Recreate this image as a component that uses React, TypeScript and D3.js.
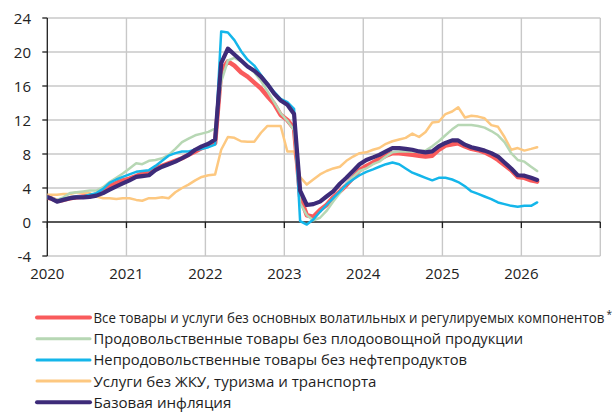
import React, { useLayoutEffect, useRef, useState } from 'react';
import * as d3 from 'd3';

// Monthly observations, Dec 2019 .. Mar 2026 (76 points)
const months: Date[] = d3.range(76).map((i) => new Date(2019, 11 + i, 15));

const yTicks = [-4, 0, 4, 8, 12, 16, 20, 24];
const yearTicks = [2020, 2021, 2022, 2023, 2024, 2025, 2026, 2027];
const yearLabels = ['2020', '2021', '2022', '2023', '2024', '2025', '2026'];

const legendLabels = [
  'Все товары и услуги без основных волатильных и регулируемых компонентов',
  'Продовольственные товары без плодоовощной продукции',
  'Непродовольственные товары без нефтепродуктов',
  'Услуги без ЖКУ, туризма и транспорта',
  'Базовая инфляция',
];
const legendFootnote = ['*', '', '', '', ''];

const allGoods = [
  3.0,
  2.8, 2.5, 2.6, 2.8, 2.9, 3.0, 3.05, 3.2, 3.7, 4.2, 4.6, 4.9,
  5.1, 5.4, 5.7, 5.8, 6.3, 6.6, 6.9, 7.2, 7.5, 7.9, 8.3, 8.7,
  9.0, 9.3, 17.8, 18.9, 18.4, 17.6, 17.1, 16.4, 15.7, 14.8, 13.9, 12.6,
  12.0, 11.0, 3.0, 0.8, 0.6, 1.4, 2.0, 2.9, 3.6, 4.35, 5.2, 6.1,
  6.6, 7.0, 7.4, 7.8, 8.1, 8.1, 8.0, 7.9, 7.8, 7.7, 7.8, 8.5,
  9.0, 9.15, 9.25, 8.9, 8.6, 8.45, 8.2, 7.8, 7.3, 6.7, 6.1, 5.3,
  5.2, 4.9, 4.75,
];

const food = [
  3.1,
  2.9, 2.6, 2.9, 3.4, 3.5, 3.6, 3.7, 3.7, 4.1, 4.7, 5.2, 5.7,
  6.3, 6.9, 6.8, 7.2, 7.3, 7.5, 7.9, 8.6, 9.4, 9.8, 10.2, 10.4,
  10.6, 11.0, 16.5, 19.0, 19.3, 18.9, 18.3, 17.6, 16.6, 15.4, 14.1, 12.8,
  11.9, 10.8, 2.2, 0.8, 0.2, 0.5, 1.3, 2.4, 3.4, 4.5, 5.3, 6.0,
  6.3, 6.8, 7.1, 7.7, 8.2, 8.3, 8.3, 8.3, 8.3, 8.4, 8.9, 9.5,
  10.2, 10.9, 11.4, 11.4, 11.4, 11.3, 11.1, 10.7, 10.2, 9.4, 8.1, 7.3,
  7.1, 6.5, 6.0,
];

const nonFood = [
  3.0,
  2.8, 2.5, 2.7, 2.9, 3.0, 3.0, 3.2, 3.4, 3.9, 4.6, 5.0, 5.3,
  5.6, 5.9, 6.0, 6.1, 6.6, 7.2, 7.8, 8.1, 8.3, 8.3, 8.5, 8.6,
  8.8, 9.1, 22.4, 22.3, 21.4, 20.1, 19.1, 18.4, 17.3, 16.3, 15.3, 14.5,
  14.1, 13.3, 0.1, -0.3, 0.3, 1.2, 2.0, 2.8, 3.6, 4.4, 5.0, 5.5,
  5.9, 6.2, 6.5, 6.8, 7.0, 6.8, 6.3, 5.8, 5.5, 5.2, 4.9, 5.2,
  5.2, 5.0, 4.7, 4.2, 3.6, 3.3, 3.0, 2.7, 2.3, 2.1, 1.9, 1.8,
  1.9, 1.9, 2.3,
];

const services = [
  3.2,
  3.2, 3.2, 3.3, 3.3, 3.5, 3.4, 3.4, 3.0, 2.8, 2.8, 2.7, 2.8,
  2.8, 2.6, 2.5, 2.8, 2.8, 2.9, 2.8, 3.5, 4.0, 4.4, 4.9, 5.3,
  5.5, 5.6, 8.5, 10.0, 9.9, 9.5, 9.45, 9.45, 10.5, 11.3, 11.3, 11.3,
  8.3, 8.3, 5.3, 4.4, 5.0, 5.6, 6.0, 6.3, 6.5, 7.2, 7.7, 8.1,
  8.2, 8.5, 8.7, 9.2, 9.5, 9.7, 9.9, 10.4, 10.0, 10.6, 11.7, 11.8,
  12.7, 13.0, 13.5, 12.3, 12.5, 12.4, 12.2, 11.4, 11.2, 10.0, 8.5, 8.7,
  8.4, 8.6, 8.8,
];

const coreInflation = [
  3.1,
  2.8, 2.4, 2.6, 2.8, 2.9, 2.9, 2.95, 3.1, 3.4, 3.8, 4.2, 4.55,
  4.9, 5.3, 5.4, 5.5, 6.1, 6.5, 6.8, 7.1, 7.5, 7.9, 8.5, 8.9,
  9.2, 9.7, 18.7, 20.4, 19.7, 19.0, 18.3, 17.8, 17.1, 16.2, 15.1, 14.3,
  13.8, 12.7, 3.7, 2.0, 2.1, 2.4, 3.0, 3.6, 4.5, 5.2, 6.0, 6.8,
  7.3, 7.6, 7.9, 8.3, 8.7, 8.7, 8.6, 8.5, 8.3, 8.2, 8.3, 8.9,
  9.3, 9.6, 9.6, 9.1, 8.8, 8.6, 8.4, 8.1, 7.7, 7.0, 6.3, 5.5,
  5.45, 5.2, 4.95,
];

const seriesStyles = [
  { key: 'services', data: services, color: '#fdc880', width: 2.5, legendIdx: 3 },
  { key: 'allGoods', data: allGoods, color: '#f95b5c', width: 4.5, legendIdx: 0 },
  { key: 'food', data: food, color: '#b7d7b4', width: 2.5, legendIdx: 1 },
  { key: 'nonFood', data: nonFood, color: '#14b6ea', width: 2.5, legendIdx: 2 },
  { key: 'core', data: coreInflation, color: '#3d2b79', width: 4.2, legendIdx: 4 },
];

const legendWidths = [511, 430, 374, 283, 138];

export default function App() {
  const W = 616;
  const H = 412;
  const x = d3
    .scaleTime()
    .domain([new Date(2020, 0, 1), new Date(2027, 0, 1)])
    .range([47.3, 600.3]);
  const y = d3.scaleLinear().domain([-4, 24]).range([256, 18]);
  const line = d3
    .line<number>()
    .x((_, i) => x(months[i]))
    .y((d) => y(d));

  const x0 = x(new Date(2020, 0, 1));
  const x1 = x(new Date(2027, 0, 1));
  const gridColor = '#c8c8c8';
  const axisColor = '#1e1e1e';
  const font = "'Open Sans', 'Noto Sans', sans-serif";

  const legendOrder = [...seriesStyles].sort((a, b) => a.legendIdx - b.legendIdx);
  const textX = 93.5;

  const textRefs = useRef<(SVGTextElement | null)[]>([]);
  const [scales, setScales] = useState<number[]>(legendLabels.map(() => 1));

  useLayoutEffect(() => {
    const next = legendLabels.map((_, i) => {
      const el = textRefs.current[i];
      if (!el) return 1;
      const natural = el.getComputedTextLength();
      return natural > 0 ? legendWidths[i] / natural : 1;
    });
    setScales(next);
  }, []);

  return (
    <svg
      width={W}
      height={H}
      style={{ position: 'absolute', left: 0, top: 0, background: '#fff' }}
      fontFamily={font}
    >
      <defs>
        <clipPath id="plotClip">
          <rect x={x0} y={0} width={x1 - x0} height={H} />
        </clipPath>
      </defs>
      {/* horizontal gridlines */}
      {yTicks
        .filter((t) => t !== 0)
        .map((t) => (
          <line key={'hg' + t} x1={x0} x2={x1} y1={y(t)} y2={y(t)} stroke={gridColor} strokeWidth={1.4} />
        ))}
      {/* vertical gridlines */}
      {yearTicks.slice(1).map((yr) => {
        const xx = x(new Date(yr, 0, 1));
        return <line key={'vg' + yr} x1={xx} x2={xx} y1={y(24)} y2={y(-4)} stroke={gridColor} strokeWidth={1.4} />;
      })}
      {/* y axis */}
      <line x1={x0} x2={x0} y1={y(24)} y2={y(-4)} stroke={axisColor} strokeWidth={1.3} />
      {yTicks.map((t) => (
        <g key={'yt' + t}>
          <line x1={x0 - 5} x2={x0} y1={y(t)} y2={y(t)} stroke={axisColor} strokeWidth={1.3} />
          <text x={31} y={y(t) + 5.5} textAnchor="end" fontSize={15} fill="#222">
            {t}
          </text>
        </g>
      ))}
      {/* x axis at zero */}
      <line x1={x0} x2={x1} y1={y(0)} y2={y(0)} stroke={axisColor} strokeWidth={1.3} />
      {yearTicks.map((yr) => {
        const xx = x(new Date(yr, 0, 1));
        return <line key={'xt' + yr} x1={xx} x2={xx} y1={y(0)} y2={y(0) + 6} stroke={axisColor} strokeWidth={1.3} />;
      })}
      {yearLabels.map((lab, i) => (
        <text key={'xl' + lab} x={x(new Date(yearTicks[i], 0, 1))} y={279} textAnchor="middle" fontSize={15} fill="#222">
          {lab}
        </text>
      ))}
      {/* series */}
      <g clipPath="url(#plotClip)">
        {seriesStyles.map((s) => (
          <path
            key={s.key}
            d={line(s.data) || ''}
            fill="none"
            stroke={s.color}
            strokeWidth={s.width}
            strokeLinejoin="round"
            strokeLinecap="round"
          />
        ))}
      </g>
      {/* legend */}
      {legendOrder.map((s, i) => {
        const ly = 317.5 + i * 21.2;
        const idx = s.legendIdx;
        const w = legendWidths[idx];
        const note = legendFootnote[idx];
        return (
          <g key={'lg' + s.key}>
            <line
              x1={37}
              x2={90}
              y1={ly}
              y2={ly}
              stroke={s.color}
              strokeWidth={idx === 0 || idx === 4 ? 4 : 3}
              strokeLinecap="round"
            />
            <g transform={`translate(${textX},${ly + 5.5}) scale(${scales[idx]},1)`}>
              <text
                ref={(el) => {
                  textRefs.current[idx] = el;
                }}
                x={0}
                y={0}
                fontSize={15}
                fill="#1e1e1e"
              >
                {legendLabels[idx]}
              </text>
            </g>
            {note && (
              <text x={textX + w + 2} y={ly} fontSize={10} fill="#1e1e1e">
                {note}
              </text>
            )}
          </g>
        );
      })}
    </svg>
  );
}
